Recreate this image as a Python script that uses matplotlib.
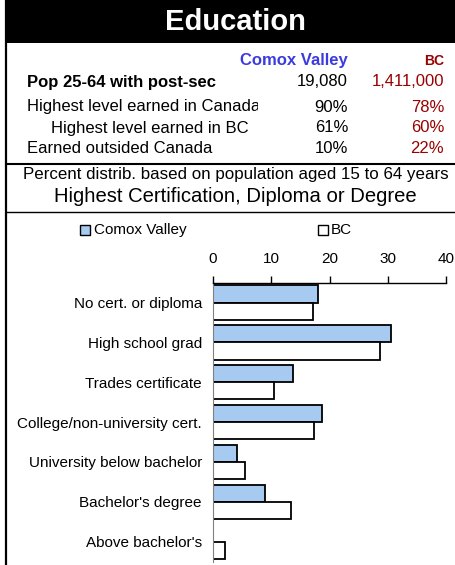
import numpy as np
import matplotlib.pyplot as plt
from matplotlib.patches import Rectangle
from matplotlib.lines import Line2D

plt.rcParams['font.family'] = ['Liberation Sans', 'DejaVu Sans']

# data
categories = ["No cert. or diploma", "High school grad", "Trades certificate",
              "College/non-university cert.", "University below bachelor",
              "Bachelor's degree", "Above bachelor's"]
comox = [18.0, 30.5, 13.8, 18.7, 4.2, 9.0, 0.0]
bc = [17.1, 28.7, 10.4, 17.3, 5.5, 13.4, 2.1]
xticks = [0, 10, 20, 30, 40]

row_labels = ["Highest level earned in Canada", "Highest level earned in BC",
              "Earned outsided Canada"]
row_comox = ["90%", "61%", "10%"]
row_bc = ["78%", "60%", "22%"]
pop_comox = "19,080"
pop_bc = "1,411,000"

W, H = 455, 565
BLUE_TXT = '#3b3be0'
RED_TXT = '#990000'
BAR_BLUE = '#a6caf0'


def fx(px):
    return px / W


def fy(py):
    return 1 - py / H


fig = plt.figure(figsize=(W / 100, H / 100), dpi=100)

# header band and frame lines
fig.patches.append(Rectangle((fx(6), fy(43)), fx(449), 43 / H, transform=fig.transFigure,
                             facecolor='black', edgecolor='none'))
fig.lines.append(Line2D([fx(6), fx(6)], [0, 1], transform=fig.transFigure, color='black', lw=1.6))
fig.lines.append(Line2D([fx(6), 1], [fy(163.5), fy(163.5)], transform=fig.transFigure, color='black', lw=1.5))
fig.lines.append(Line2D([fx(6), 1], [fy(212), fy(212)], transform=fig.transFigure, color='black', lw=1.0))

fig.text(fx(235), fy(22), "Education", color='white', fontsize=21, fontweight='bold',
         ha='center', va='center')

# summary table
fig.text(fx(348), fy(61), "Comox Valley", color=BLUE_TXT, fontsize=12, fontweight='bold',
         ha='right', va='center')
fig.text(fx(444), fy(61), "BC", color=RED_TXT, fontsize=10, fontweight='bold',
         ha='right', va='center')
fig.text(fx(27), fy(82), "Pop 25-64 with post-sec", fontsize=12, fontweight='bold', va='center')
fig.text(fx(348), fy(82), pop_comox, fontsize=12, ha='right', va='center')
fig.text(fx(444), fy(82), pop_bc, fontsize=12, ha='right', va='center', color=RED_TXT)

clip = Rectangle((0, 0), fx(258), 1, transform=fig.transFigure, visible=False)
fig.patches.append(clip)
row_y = [107, 128, 148]
row_x = [27, 51, 27]
for lab, cv, b, y, x in zip(row_labels, row_comox, row_bc, row_y, row_x):
    t = fig.text(fx(x), fy(y), lab, fontsize=12, va='center')
    t.set_clip_path(clip)
    fig.text(fx(348), fy(y), cv, fontsize=12, ha='right', va='center')
    fig.text(fx(444), fy(y), b, fontsize=12, ha='right', va='center', color=RED_TXT)

fig.text(fx(236), fy(175), "Percent distrib. based on population aged 15 to 64 years",
         fontsize=12.2, ha='center', va='center')
fig.text(fx(235), fy(197), "Highest Certification, Diploma or Degree",
         fontsize=14.6, ha='center', va='center')

# legend
fig.patches.append(Rectangle((fx(80), fy(235)), 10 / W, 10 / H, transform=fig.transFigure,
                             facecolor=BAR_BLUE, edgecolor='black', lw=1))
fig.text(fx(94), fy(230), "Comox Valley", fontsize=11, va='center')
fig.patches.append(Rectangle((fx(318), fy(235)), 10 / W, 10 / H, transform=fig.transFigure,
                             facecolor='white', edgecolor='black', lw=1))
fig.text(fx(331), fy(230), "BC", fontsize=11, va='center')

# bar chart
ax = fig.add_axes([fx(213), fy(561.5), 233 / W, (561.5 - 282.7) / H])
y = np.arange(len(categories))
h = 0.43
ax.barh(y - h / 2, comox, height=h, color=BAR_BLUE, edgecolor='black', lw=1.3)
ax.barh(y + h / 2, bc, height=h, color='white', edgecolor='black', lw=1.3)
ax.set_xlim(0, 40)
ax.set_ylim(len(categories) - 0.5, -0.5)
ax.set_xticks(xticks)
ax.xaxis.tick_top()
ax.tick_params(axis='x', direction='out', length=5, width=1, labelsize=11, pad=7)
ax.set_yticks(y)
ax.set_yticklabels(categories, fontsize=11)
ax.tick_params(axis='y', length=0, pad=8)
ax.spines['right'].set_visible(False)
ax.spines['bottom'].set_visible(False)
ax.spines['left'].set_color('#808080')
ax.spines['top'].set_linewidth(1)
ax.patch.set_alpha(0)

fig.savefig('out.png', dpi=100)
